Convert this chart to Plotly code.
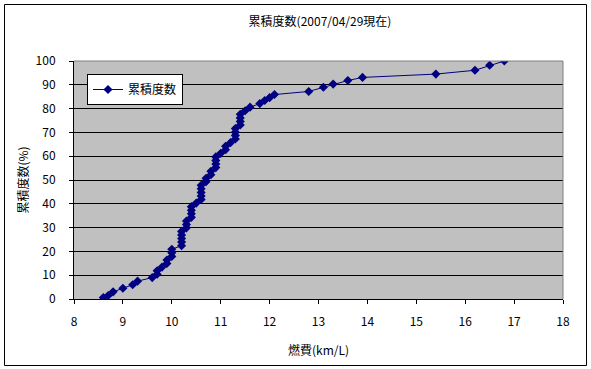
import plotly.graph_objects as go

# fuel economy values (km/L), sorted, one per record
fuel = [8.6, 8.7, 8.8, 9.0, 9.2, 9.3, 9.6, 9.7, 9.7, 9.8,
        9.9, 9.9, 10.0, 10.0, 10.0, 10.2, 10.2, 10.2, 10.2, 10.2,
        10.3, 10.3, 10.3, 10.4, 10.4, 10.4, 10.4, 10.5, 10.6, 10.6,
        10.6, 10.6, 10.6, 10.7, 10.7, 10.8, 10.8, 10.9, 10.9, 10.9,
        10.9, 11.0, 11.1, 11.1, 11.2, 11.3, 11.3, 11.3, 11.3, 11.4,
        11.4, 11.4, 11.4, 11.5, 11.6, 11.8, 11.9, 12.0, 12.1, 12.8,
        13.1, 13.3, 13.6, 13.9, 15.4, 16.2, 16.5, 16.8]

# cumulative frequency (%)
cum_pct = [0.6, 1.5, 3.0, 4.5, 6.0, 7.5, 9.0, 10.4, 11.9, 13.4,
           14.9, 16.4, 17.9, 19.4, 20.9, 22.4, 23.9, 25.4, 26.9, 28.4,
           29.9, 31.3, 32.8, 34.3, 35.8, 37.3, 38.8, 40.3, 41.8, 43.3,
           44.8, 46.3, 47.8, 49.3, 50.7, 52.2, 53.7, 55.2, 56.7, 58.2,
           59.7, 61.2, 62.7, 64.2, 65.7, 67.2, 68.7, 70.1, 71.6, 73.1,
           74.6, 76.1, 77.6, 79.1, 80.6, 82.1, 83.4, 84.6, 85.9, 87.2,
           89.0, 90.3, 91.8, 93.1, 94.5, 96.1, 98.2, 100.0]

series_name = "累積度数"
title_text = "累積度数(2007/04/29現在)"
x_title = "燃費(km/L)"
y_title = "累積度数(%)"

FONT = "Noto Sans CJK JP, Noto Sans, sans-serif"

fig = go.Figure()
fig.add_trace(go.Scatter(
    x=fuel, y=cum_pct, mode="lines+markers", name=series_name,
    line=dict(color="#000080", width=1),
    marker=dict(symbol="diamond", size=7, color="#000080"),
))

W, H = 591, 369
L, R, T, B = 74, 28, 61, 70
pw, ph = W - L - R, H - T - B

def px2x(px):
    return (px - L) / pw

def py2y(py):
    return (H - B - py) / ph

fig.update_layout(
    width=W, height=H,
    margin=dict(l=L, r=R, t=T, b=B, pad=0),
    paper_bgcolor="white",
    plot_bgcolor="#C0C0C0",
    font=dict(family=FONT, size=12, color="black"),
    title=dict(text=title_text, x=320 / W, xanchor="center",
               y=1 - 22 / H, yanchor="middle", font=dict(size=12)),
    showlegend=True,
    legend=dict(x=px2x(87), y=py2y(74), xanchor="left", yanchor="top",
                bgcolor="white", bordercolor="black", borderwidth=1,
                font=dict(size=12), itemwidth=30,
                tracegroupgap=0),
    xaxis=dict(range=[8, 18], dtick=1, tick0=8, showgrid=False, zeroline=False,
               showline=True, linecolor="black", linewidth=1,
               ticks="outside", ticklen=4, tickcolor="black",
               ticklabelstandoff=8,
               title=dict(text=x_title, standoff=18, font=dict(size=12))),
    yaxis=dict(range=[0, 100], dtick=10, tick0=0, showgrid=True,
               gridcolor="black", gridwidth=1, zeroline=False,
               showline=True, linecolor="black", linewidth=1,
               ticks="outside", ticklen=4, tickcolor="black",
               ticklabelstandoff=11,
               title=dict(text=y_title, standoff=4, font=dict(size=12))),
    shapes=[
        dict(type="line", xref="paper", yref="paper", x0=0, x1=1, y0=1, y1=1,
             line=dict(color="#808080", width=1)),
        dict(type="line", xref="paper", yref="paper", x0=1, x1=1, y0=0, y1=1,
             line=dict(color="#808080", width=1)),
        dict(type="rect", xref="paper", yref="paper", layer="above",
             x0=px2x(4.5), x1=px2x(586.5), y0=py2y(365.5), y1=py2y(4.5),
             line=dict(color="black", width=1), fillcolor="rgba(0,0,0,0)"),
    ],
)

fig.write_html("out.html", config={"displayModeBar": False})

# remove the browser's default page margin so the chart sits at (0, 0)
with open("out.html", "r", encoding="utf-8") as f:
    html = f.read()
html = html.replace("<head>", "<head><style>html,body{margin:0;padding:0;overflow:hidden;}</style>", 1)
with open("out.html", "w", encoding="utf-8") as f:
    f.write(html)
